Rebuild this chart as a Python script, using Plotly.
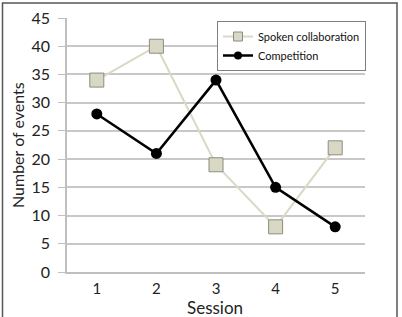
import plotly.graph_objects as go

sessions = ["1", "2", "3", "4", "5"]
spoken = [34, 40, 19, 8, 22]
competition = [28, 21, 34, 15, 8]
y_ticks = [0, 5, 10, 15, 20, 25, 30, 35, 40, 45]
series_names = ["Spoken collaboration", "Competition"]

L, R, T, B = 67, 37, 18, 45
W, H = 402, 317
pw, ph = W - L - R, H - T - B

spoken_line = dict(color="#d9d9c6", width=2)
comp_line = dict(color="#000000", width=2.5)

fig = go.Figure()
fig.add_trace(go.Scatter(
    x=sessions, y=spoken, name=series_names[0], mode="lines+markers", showlegend=False,
    line=spoken_line,
    marker=dict(symbol="square", size=14, color="#d8d8c4", line=dict(color="#8c8c80", width=1)),
))
fig.add_trace(go.Scatter(
    x=sessions, y=competition, name=series_names[1], mode="lines+markers", showlegend=False,
    line=comp_line,
    marker=dict(symbol="circle", size=11, color="#000000"),
))
# legend entries with smaller symbols
fig.add_trace(go.Scatter(
    x=[None], y=[None], name=series_names[0], mode="lines+markers",
    line=spoken_line,
    marker=dict(symbol="square", size=9, color="#d8d8c4", line=dict(color="#8c8c80", width=1)),
))
fig.add_trace(go.Scatter(
    x=[None], y=[None], name=series_names[1], mode="lines+markers",
    line=comp_line,
    marker=dict(symbol="circle", size=8, color="#000000"),
))

fig.update_layout(
    width=W, height=H,
    margin=dict(l=L, r=R, t=T, b=B, autoexpand=False),
    paper_bgcolor="white", plot_bgcolor="white",
    font=dict(family="Lato, Open Sans, sans-serif", color="#222222"),
    showlegend=True,
    legend=dict(
        x=(217 - L) / pw, y=(H - B - 21) / ph, xanchor="left", yanchor="top",
        bordercolor="#808080", borderwidth=1, bgcolor="white",
        font=dict(size=11, color="#111111"),
        tracegroupgap=0, itemwidth=30,
    ),
    xaxis=dict(
        type="category", range=[-0.5, 4.5], automargin=False,
        showgrid=False, showline=True, linecolor="#bfbfbf", linewidth=1.5,
        ticks="", ticklabelstandoff=2, tickfont=dict(size=15, color="#222222"),
    ),
    yaxis=dict(
        range=[0, 45], tickvals=y_ticks, automargin=False,
        showgrid=True, gridcolor="#c8c8c8", gridwidth=1.5,
        showline=True, linecolor="#bfbfbf", linewidth=1.5,
        ticks="outside", ticklen=7, tickcolor="#bfbfbf", ticklabelstandoff=5,
        tickfont=dict(size=16, color="#222222"),
        zeroline=False,
    ),
    annotations=[
        dict(text="Session", xref="paper", yref="paper",
             x=(215 - L) / pw, y=(H - B - 307) / ph, xanchor="center", yanchor="middle",
             showarrow=False, font=dict(size=17, color="#222222")),
        dict(text="Number of events", xref="paper", yref="paper", textangle=-90,
             x=(17 - L) / pw, y=0.5, xanchor="center", yanchor="middle",
             showarrow=False, font=dict(size=16, color="#222222")),
    ],
    shapes=[dict(
        type="rect", xref="paper", yref="paper",
        x0=(2.5 - L) / pw, x1=(397 - L) / pw,
        y0=(H - B - 330) / ph, y1=(H - B - 3) / ph,
        line=dict(color="#555555", width=1.5), fillcolor="rgba(0,0,0,0)", layer="below",
    )],
)

fig.write_html("out.html")
